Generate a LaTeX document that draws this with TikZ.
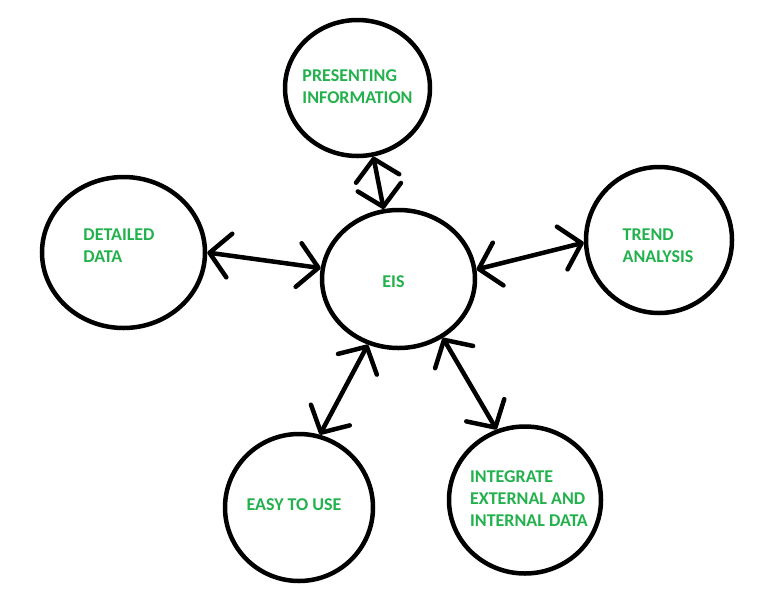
\documentclass[tikz,border=0pt]{standalone}
\usepackage{fontspec}
\setmainfont{Carlito}
\usetikzlibrary{shapes.geometric,arrows.meta}
\definecolor{paintgreen}{RGB}{34,177,76}

\begin{document}
\begin{tikzpicture}[x=1pt,y=-1pt,
        bubble/.style={ellipse,draw,line width=4.5pt,inner sep=0pt},
        txt/.style={text=paintgreen,font=\fontsize{18}{22}\selectfont\bfseries,align=left,inner sep=0pt},
        link/.style={line width=4.5pt,line cap=round,{Straight Barb[round,length=20pt,width=44pt]}-{Straight Barb[round,length=20pt,width=44pt]}}]
            \useasboundingbox (0,0) rectangle (774,598);
            \node[bubble,minimum width=153pt,minimum height=138pt] (eis) at (398.5,279) {};
            \node[bubble,minimum width=145pt,minimum height=136pt] (pres) at (357.5,88) {};
            \node[bubble,minimum width=163pt,minimum height=151pt] (det) at (123.5,252.5) {};
            \node[bubble,minimum width=146pt,minimum height=146pt] (trend) at (659,240) {};
            \node[bubble,minimum width=148pt,minimum height=147pt] (easy) at (299,507.5) {};
            \node[bubble,minimum width=152pt,minimum height=147pt] (integ) at (525,500) {};
            \node[txt] (eis-t) at (393.5,282) {EIS};
            \node[txt] (pres-t) at (357.5,87) {PRESENTING\\INFORMATION};
            \node[txt] (det-t) at (119,246) {DETAILED\\DATA};
            \node[txt] (trend-t) at (658,246) {TREND\\ANALYSIS};
            \node[txt] (easy-t) at (294,505) {EASY TO USE};
            \node[txt] (integ-t) at (529,499) {INTEGRATE\\EXTERNAL AND\\INTERNAL DATA};
            \draw[link] (pres.283) -- (eis.102);
            \draw[link] (det.0) -- (eis.172);
            \draw[link] (trend.182) -- (eis.7);
            \draw[link] (easy.74) -- (eis.245);
            \draw[link] (integ.112) -- (eis.307);
        \end{tikzpicture}
\end{document}
